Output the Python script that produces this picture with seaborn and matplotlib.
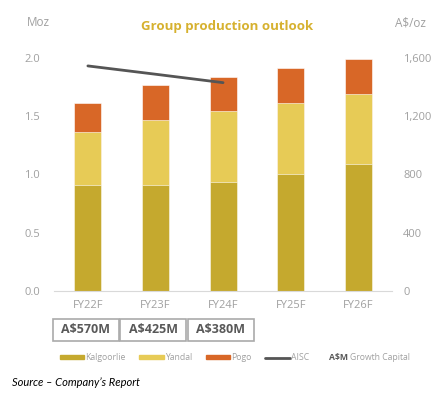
import numpy as np
import pandas as pd
import seaborn as sns
import matplotlib.pyplot as plt
from matplotlib.patches import Rectangle
from matplotlib.lines import Line2D
from matplotlib.patches import Patch
import matplotlib.transforms as mtransforms

# Data
years = ['FY22F', 'FY23F', 'FY24F', 'FY25F', 'FY26F']
kalgoorlie = [0.91, 0.91, 0.93, 1.00, 1.09]
yandal = [0.45, 0.56, 0.61, 0.61, 0.60]
pogo = [0.25, 0.30, 0.30, 0.30, 0.30]
aisc_years = [0, 1, 2]
aisc = [1545, 1488, 1430]
capex = ['A$570M', 'A$425M', 'A$380M']

c_kal = '#C5A92E'
c_yan = '#E7CB56'
c_pogo = '#D86727'
c_aisc = '#555555'
grey = '#A0A0A0'

sns.set_style('white')
plt.rcParams['font.family'] = ['Open Sans', 'DejaVu Sans']

df = pd.DataFrame({'year': years, 'kal': kalgoorlie, 'yan': yandal, 'pogo': pogo})
df['yan_top'] = df['kal'] + df['yan']
df['total'] = df['yan_top'] + df['pogo']

fig = plt.figure(figsize=(4.47, 3.94), dpi=100)
ax = fig.add_axes([0.121, 0.262, 0.756, 0.591])

# stacked bars drawn as overlapping cumulative bars
for col, c in [('total', c_pogo), ('yan_top', c_yan), ('kal', c_kal)]:
    sns.barplot(data=df, x='year', y=col, color=c, width=0.4, ax=ax,
                saturation=1, edgecolor='white', linewidth=0.4)

ax.set_xlim(-0.5, 4.5)
ax.set_ylim(0, 2.0)
ax.set_yticks([0, 0.5, 1.0, 1.5, 2.0])
ax.set_yticklabels(['0.0', '0.5', '1.0', '1.5', '2.0'])
ax.set_xlabel('')
ax.set_ylabel('')
ax.tick_params(axis='y', colors=grey, labelsize=8, length=0, pad=10)
ax.tick_params(axis='x', colors=grey, labelsize=8, length=0, pad=7)
for s in ['top', 'right', 'left']:
    ax.spines[s].set_visible(False)
ax.spines['bottom'].set_color('#D9D9D9')
ax.spines['bottom'].set_linewidth(0.8)

ax2 = ax.twinx()
sns.lineplot(x=aisc_years, y=aisc, color=c_aisc, linewidth=2, ax=ax2)
ax2.set_ylim(0, 1600)
ax2.set_yticks([0, 400, 800, 1200, 1600])
ax2.set_yticklabels(['0', '400', '800', '1,200', '1,600'])
ax2.tick_params(axis='y', colors=grey, labelsize=8, length=0, pad=8)
for s in ['top', 'right', 'left', 'bottom']:
    ax2.spines[s].set_visible(False)
ax2.set_xlim(-0.5, 4.5)

# axis unit labels and title
fig.text(0.085, 0.942, 'Moz', color=grey, fontsize=8.5, ha='center', va='center')
fig.text(0.918, 0.942, 'A$/oz', color=grey, fontsize=8.5, ha='center', va='center')
fig.text(0.508, 0.932, 'Group production outlook', color='#D6B12F', fontsize=9.5,
         fontweight='bold', ha='center', va='center')

# growth capital boxes
trans = mtransforms.blended_transform_factory(ax.transData, fig.transFigure)
for i, label in enumerate(capex):
    rect = Rectangle((i - 0.52, 0.135), 0.975, 0.056, transform=trans,
                     facecolor='white', edgecolor='#AAAAAA', linewidth=1.2,
                     clip_on=False)
    fig.add_artist(rect)
    fig.text(i - 0.035, 0.163, label, transform=trans, fontsize=9, fontweight='bold',
             color='#595959', ha='center', va='center')

# legend
handles = [Patch(color=c_kal), Patch(color=c_yan), Patch(color=c_pogo),
           Line2D([0], [0], color=c_aisc, linewidth=2)]
labels = ['Kalgoorlie', 'Yandal', 'Pogo', 'AISC']
leg = fig.legend(handles, labels, loc='center left', bbox_to_anchor=(0.134, 0.092),
                 ncol=4, frameon=False, fontsize=6.2, handlelength=2.8,
                 handleheight=0.45, handletextpad=0.15, columnspacing=1.6,
                 labelcolor=grey, borderpad=0, borderaxespad=0)
fig.text(0.736, 0.092, 'A$M', color='#595959', fontsize=6.2, fontweight='bold',
         ha='left', va='center')
fig.text(0.784, 0.092, 'Growth Capital', color=grey, fontsize=6.2,
         ha='left', va='center')

fig.text(0.027, 0.028, 'Source \u2013 Company\u2019s Report', fontsize=8,
         style='italic', color='black', family=['Lato', 'DejaVu Sans'],
         ha='left', va='center')

fig.savefig('out.png', dpi=100)
